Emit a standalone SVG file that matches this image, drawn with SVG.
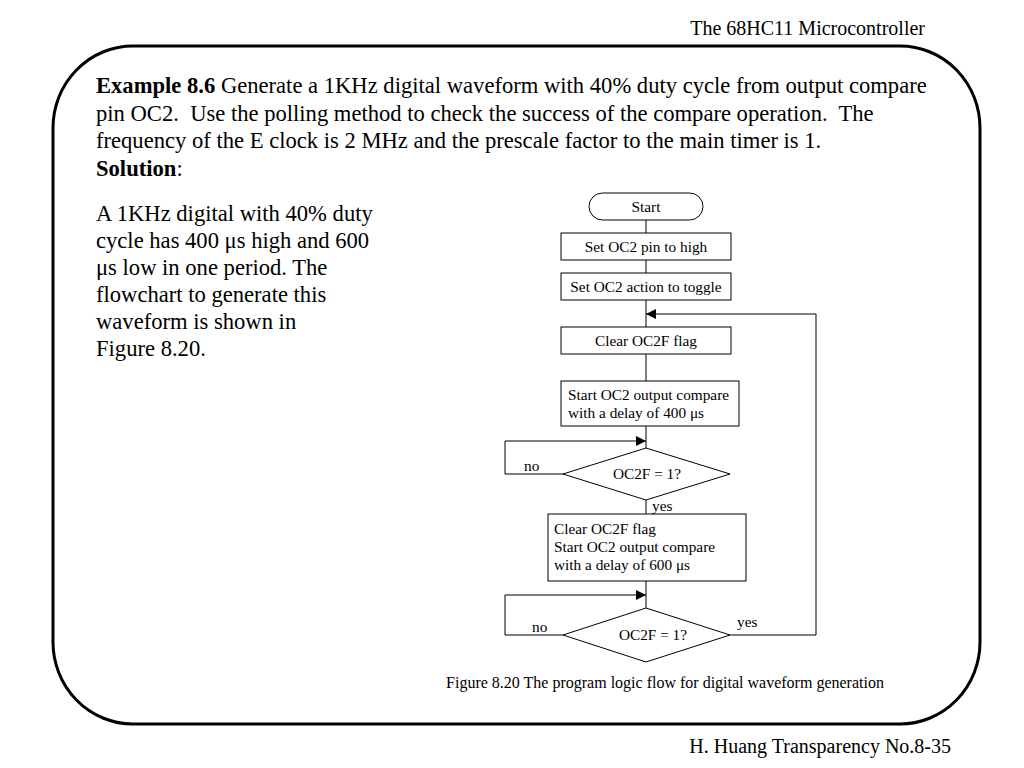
<svg xmlns="http://www.w3.org/2000/svg" width="1024" height="768" viewBox="0 0 1024 768">
<defs>
<style>
.t{font-family:"Liberation Serif","Times New Roman",serif;fill:#000;white-space:pre}
.big{font-size:22.6px}
.hdr{font-size:20px}
.fc{font-size:15.3px}
.box{fill:#fff;stroke:#000;stroke-width:1}
.ln{fill:none;stroke:#000;stroke-width:1}
</style>
<marker id="ah" viewBox="0 0 10 10" refX="10" refY="5" markerWidth="10" markerHeight="10" markerUnits="userSpaceOnUse" orient="auto">
<path d="M0,0 L10,5 L0,10 z" fill="#000"/>
</marker>
</defs>
<rect width="1024" height="768" fill="#fff"/>
<text class="t hdr" x="925" y="35" text-anchor="end">The 68HC11 Microcontroller</text>
<rect x="53" y="46" width="927" height="678" rx="80" ry="82" fill="none" stroke="#000" stroke-width="3"/>
<g id="problem">
<text class="t big" x="96" y="93" xml:space="preserve"><tspan font-weight="bold">Example 8.6</tspan> Generate a 1KHz digital waveform with 40% duty cycle from output compare</text>
<text class="t big" x="96" y="121" xml:space="preserve">pin OC2.  Use the polling method to check the success of the compare operation.  The</text>
<text class="t big" x="96" y="148" xml:space="preserve">frequency of the E clock is 2 MHz and the prescale factor to the main timer is 1.</text>
<text class="t big" x="96" y="176" xml:space="preserve"><tspan font-weight="bold">Solution</tspan>:</text>
</g>
<g id="explanation">
<text class="t big" x="96" y="221">A 1KHz digital with 40% duty</text>
<text class="t big" x="96" y="248">cycle has 400 μs high and 600</text>
<text class="t big" x="96" y="275">μs low in one period. The</text>
<text class="t big" x="96" y="302">flowchart to generate this</text>
<text class="t big" x="96" y="329">waveform is shown in</text>
<text class="t big" x="96" y="356">Figure 8.20.</text>
</g>
<g id="connectors">
<line class="ln" x1="646" y1="220" x2="646" y2="233"/>
<line class="ln" x1="646" y1="260" x2="646" y2="273"/>
<line class="ln" x1="646" y1="300" x2="646" y2="327"/>
<line class="ln" x1="646" y1="354" x2="646" y2="381"/>
<line class="ln" x1="646" y1="426" x2="646" y2="448"/>
<polyline class="ln" points="563,474 505,474 505,441 646,441" marker-end="url(#ah)"/>
<line class="ln" x1="646" y1="500" x2="646" y2="514"/>
<line class="ln" x1="646" y1="581" x2="646" y2="608"/>
<polyline class="ln" points="563,635 505,635 505,595 646,595" marker-end="url(#ah)"/>
<polyline class="ln" points="730,635 816,635 816,314 646,314" marker-end="url(#ah)"/>
<text class="t fc" x="524" y="471">no</text>
<text class="t fc" x="652" y="511">yes</text>
<text class="t fc" x="532" y="632">no</text>
<text class="t fc" x="737" y="627">yes</text>
</g>
<g id="start">
<rect class="box" x="589" y="193" width="114" height="27" rx="13.5"/>
<text class="t fc" x="646" y="212" text-anchor="middle">Start</text>
</g>
<g id="set-high">
<rect class="box" x="561" y="233" width="170" height="27"/>
<text class="t fc" x="646" y="252" text-anchor="middle">Set OC2 pin to high</text>
</g>
<g id="set-toggle">
<rect class="box" x="561" y="273" width="170" height="27"/>
<text class="t fc" x="646" y="292" text-anchor="middle">Set OC2 action to toggle</text>
</g>
<g id="clear-flag">
<rect class="box" x="561" y="327" width="170" height="27"/>
<text class="t fc" x="646" y="346" text-anchor="middle">Clear OC2F flag</text>
</g>
<g id="start-400">
<rect class="box" x="561" y="381" width="178" height="45"/>
<text class="t fc" x="568" y="400">Start OC2 output compare</text>
<text class="t fc" x="568" y="418">with a delay of 400 μs</text>
</g>
<g id="check1">
<polygon class="box" points="646,448 730,474 646,500 563,474"/>
<text class="t fc" x="647" y="479" text-anchor="middle">OC2F = 1?</text>
</g>
<g id="start-600">
<rect class="box" x="548" y="514" width="198" height="67"/>
<text class="t fc" x="554" y="534">Clear OC2F flag</text>
<text class="t fc" x="554" y="552">Start OC2 output compare</text>
<text class="t fc" x="554" y="570">with a delay of 600 μs</text>
</g>
<g id="check2">
<polygon class="box" points="646,608 730,635 646,662 563,635"/>
<text class="t fc" x="653" y="640" text-anchor="middle">OC2F = 1?</text>
</g>
<text class="t" font-size="16px" x="665" y="688" text-anchor="middle">Figure 8.20 The program logic flow for digital waveform generation</text>
<text class="t hdr" x="951" y="753" text-anchor="end">H. Huang Transparency No.8-35</text>
</svg>
